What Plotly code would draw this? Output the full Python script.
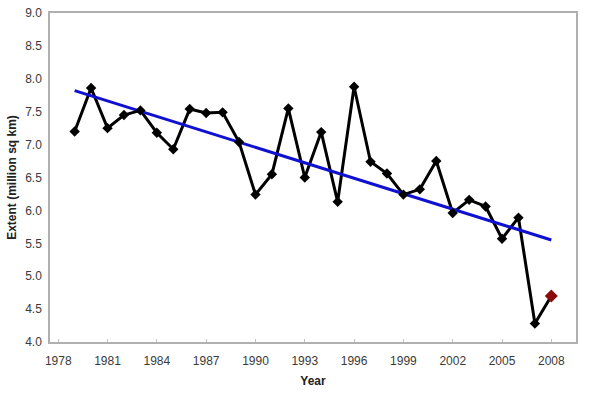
import plotly.graph_objects as go

years = list(range(1979, 2008))
extent = [7.20, 7.86, 7.25, 7.45, 7.52, 7.18, 6.93, 7.54, 7.48, 7.49,
          7.04, 6.24, 6.55, 7.55, 6.50, 7.19, 6.13, 7.88, 6.74, 6.56,
          6.24, 6.32, 6.75, 5.96, 6.16, 6.06, 5.57, 5.89, 4.28]
last_year = [2007, 2008]
last_extent = [4.28, 4.70]
trend_years = [1979, 2008]
trend_values = [7.82, 5.55]
x_ticks = [1978, 1981, 1984, 1987, 1990, 1993, 1996, 1999, 2002, 2005, 2008]
y_ticks = [4.0, 4.5, 5.0, 5.5, 6.0, 6.5, 7.0, 7.5, 8.0, 8.5, 9.0]

font_family = "Liberation Sans, Arial, sans-serif"

fig = go.Figure()
fig.add_trace(go.Scatter(x=years + [last_year[1]], y=extent + [last_extent[1]], mode="lines",
                         line=dict(color="black", width=3), showlegend=False))
fig.add_trace(go.Scatter(x=trend_years, y=trend_values, mode="lines",
                         line=dict(color="#1010d0", width=3), showlegend=False))
fig.add_trace(go.Scatter(x=years, y=extent, mode="markers",
                         marker=dict(symbol="diamond", color="black", size=8),
                         showlegend=False))
fig.add_trace(go.Scatter(x=[last_year[1]], y=[last_extent[1]], mode="markers",
                         marker=dict(symbol="diamond", color="#8b0a0a", size=10),
                         showlegend=False))

fig.update_layout(
    width=592, height=393,
    margin=dict(l=50, r=16, t=13, b=51),
    paper_bgcolor="white", plot_bgcolor="white",
    font=dict(family=font_family, size=12, color="#3a3a3a"),
    xaxis=dict(range=[1977.5, 2009.5], tickvals=x_ticks,
               ticktext=[str(v) for v in x_ticks],
               showgrid=False, zeroline=False, showline=True, mirror=True,
               linecolor="#b0b0b0", linewidth=1.5, automargin=False,
               ticks="inside", ticklen=3, tickcolor="#c0c0c0",
               ticklabelstandoff=7,
               title=dict(text="<b>Year</b>", font=dict(size=12, color="#222"), standoff=9),
               tickfont=dict(size=12, color="#3a3a3a")),
    yaxis=dict(range=[4.0, 9.0], tickvals=y_ticks,
               ticktext=[f"{v:.1f}" for v in y_ticks],
               showgrid=False, zeroline=False, showline=True, mirror=True,
               linecolor="#b0b0b0", linewidth=1.5, automargin=False,
               ticks="", ticklabeloverflow="allow", ticklabelstandoff=4,
               title=dict(text="<b>Extent (million sq km)</b>", font=dict(size=12, color="#222"), standoff=6),
               tickfont=dict(size=12, color="#3a3a3a")),
)

fig.write_html("out.html", config={"displayModeBar": False},
               post_script="document.body.style.margin='0';")
